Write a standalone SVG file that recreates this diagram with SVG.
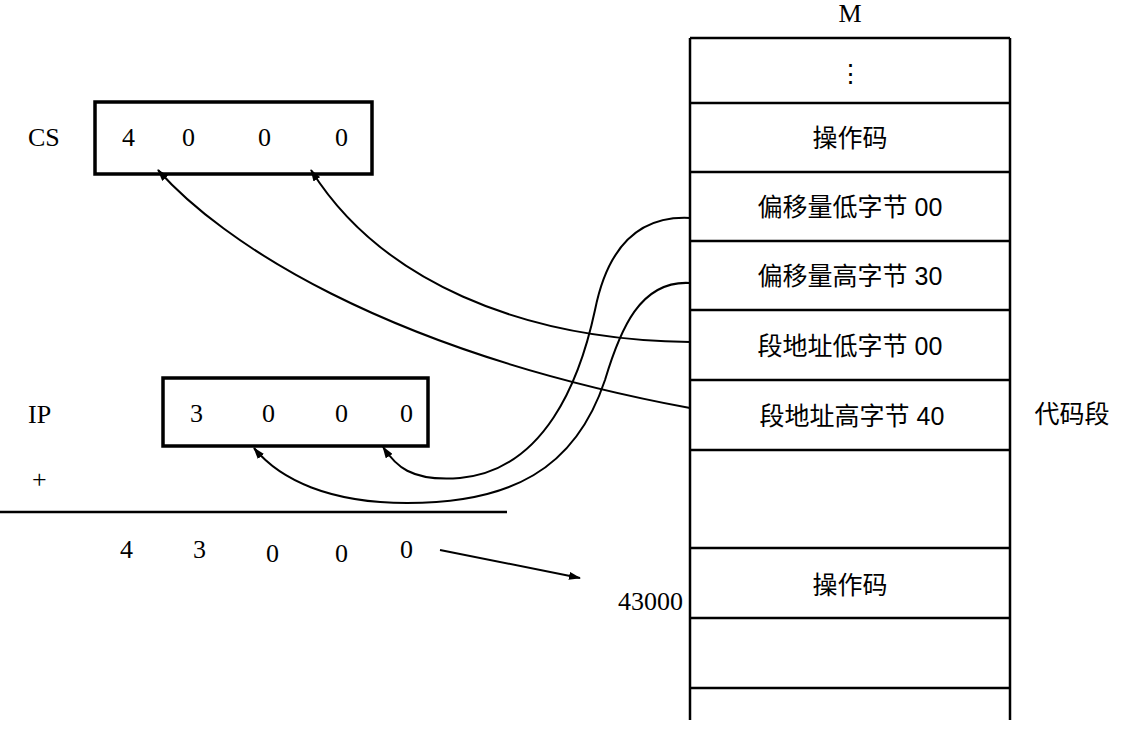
<svg xmlns="http://www.w3.org/2000/svg" width="1122" height="732" viewBox="0 0 1122 732">
<style>
.b{fill:#fff;stroke:#000;stroke-width:3.5}
.l{fill:none;stroke:#000;stroke-width:2.5}
.c{fill:none;stroke:#000;stroke-width:2}
.t{font-family:"Liberation Serif",serif;font-size:26px}
.z{font-family:"Liberation Sans","Noto Sans CJK SC",sans-serif;font-size:25px;text-anchor:middle}
</style>
<defs><marker id="a" markerWidth="12" markerHeight="8" refX="11" refY="4" orient="auto" markerUnits="userSpaceOnUse"><path d="M0,0L12,4L0,8z"/></marker></defs>
<rect width="1122" height="732" fill="#fff"/>
<g id="memory">
<path class="l" d="M690,38V720M1010,38V720M690,38H1010M690,103H1010M690,172H1010M690,241H1010M690,310H1010M690,380H1010M690,450H1010M690,548H1010M690,618H1010M690,688H1010"/>
<text class="t" x="850" y="22" text-anchor="middle">M</text>
<text class="z" x="850" y="82">⋮</text>
<text class="z" x="850" y="147">操作码</text>
<text class="z" x="850" y="216">偏移量低字节 00</text>
<text class="z" x="850" y="285">偏移量高字节 30</text>
<text class="z" x="850" y="355">段地址低字节 00</text>
<text class="z" x="852" y="425">段地址高字节 40</text>
<text class="z" x="1072" y="423">代码段</text>
<text class="z" x="850" y="594">操作码</text>
<text class="t" x="683" y="610" text-anchor="end">43000</text>
</g>
<g id="cs">
<text class="t" x="28" y="146">CS</text>
<rect class="b" x="95" y="102" width="277" height="72"/>
<text class="t" x="122" y="146">4</text><text class="t" x="182" y="146">0</text><text class="t" x="258" y="146">0</text><text class="t" x="335" y="146">0</text>
</g>
<g id="ip">
<text class="t" x="28" y="423">IP</text>
<rect class="b" x="163" y="378" width="265" height="68"/>
<text class="t" x="190" y="422">3</text><text class="t" x="262" y="422">0</text><text class="t" x="335" y="422">0</text><text class="t" x="400" y="422">0</text>
<text class="t" x="32" y="488">+</text>
<path class="l" d="M0,512H507"/>
<text class="t" x="120" y="558">4</text><text class="t" x="193" y="558">3</text><text class="t" x="266" y="562">0</text><text class="t" x="335" y="562">0</text><text class="t" x="400" y="558">0</text>
</g>
<g id="connectors">
<path class="c" marker-end="url(#a)" d="M690,218C630,215 605,260 595,310C580,380 545,470 460,478C410,482 395,465 383,447"/>
<path class="c" marker-end="url(#a)" d="M690,283C640,280 620,330 605,380C575,470 510,503 407,503C330,503 280,480 254,448"/>
<path class="c" marker-end="url(#a)" d="M690,342C520,340 380,280 311,170"/>
<path class="c" marker-end="url(#a)" d="M690,408C380,350 220,240 158,170"/>
<path class="c" marker-end="url(#a)" d="M440,550L580,578"/>
</g>
</svg>
